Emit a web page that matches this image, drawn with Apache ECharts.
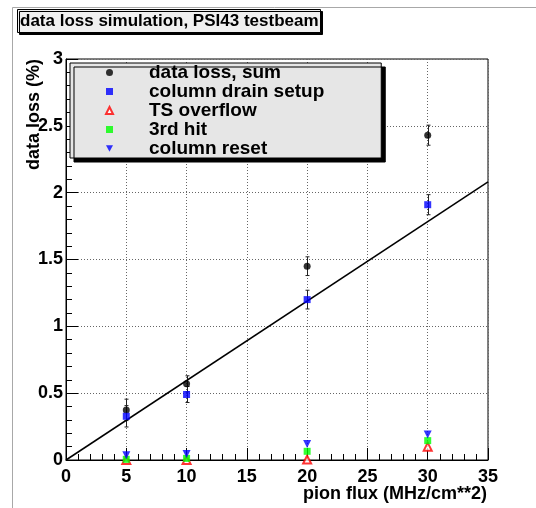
<!DOCTYPE html>
<html><head><meta charset="utf-8">
<script src="https://cdn.jsdelivr.net/npm/echarts@6/dist/echarts.min.js"></script>
<style>html,body{margin:0;padding:0;background:#fff}#c{width:536px;height:508px}</style>
</head><body><div id="c"></div>
<script>
// ---- data ----
const flux = [5, 10, 20, 30];                 // pion flux (MHz/cm**2)
const sumLoss = [0.375, 0.57, 1.45, 2.43];    // data loss, sum
const sumErr = [0.08, 0.06, 0.07, 0.075];
const drainLoss = [0.327, 0.49, 1.2, 1.91];   // column drain setup
const drainErr = [0.08, 0.06, 0.07, 0.075];
const tsOverflow = [0.0, 0.0, 0.003, 0.10];   // TS overflow
const thirdHit = [0.005, 0.012, 0.065, 0.145];// 3rd hit
const colReset = [0.035, 0.045, 0.12, 0.19];  // column reset
const fitX = [0, 35];                         // straight-line fit
const fitY = [0, 2.08];
const seriesNames = ['data loss, sum', 'column drain setup', 'TS overflow', '3rd hit', 'column reset'];
const titleText = 'data loss simulation, PSI43 testbeam';
const xTitle = 'pion flux (MHz/cm**2)';
const yTitle = 'data loss (%)';

const FONT = 'Liberation Sans, Arial, Helvetica, sans-serif';
const pts = (ys) => flux.map((x, i) => [x, ys[i]]);
const errData = (ys, es) => flux.map((x, i) => [x, ys[i] - es[i], ys[i] + es[i]]);

function errRender(params, api) {
  const x = api.value(0);
  const lo = api.coord([x, api.value(1)]);
  const hi = api.coord([x, api.value(2)]);
  const c = 2;
  const px = Math.round(lo[0]) + 0.5;
  return {
    type: 'group',
    children: [
      { type: 'line', shape: { x1: px, y1: lo[1], x2: px, y2: hi[1] }, style: { stroke: '#222', lineWidth: 1 } },
      { type: 'line', shape: { x1: px - c, y1: lo[1], x2: px + c, y2: lo[1] }, style: { stroke: '#222', lineWidth: 1 } },
      { type: 'line', shape: { x1: px - c, y1: hi[1], x2: px + c, y2: hi[1] }, style: { stroke: '#222', lineWidth: 1 } }
    ]
  };
}

const axisFont = { fontFamily: FONT, fontWeight: 'bold', fontSize: 18, color: '#000' };
const chart = echarts.init(document.getElementById('c'), null, { renderer: 'canvas' });
chart.setOption({
  animation: false,
  backgroundColor: '#fff',
  graphic: [{
    type: 'rect', silent: true, z: -10,
    shape: { x: 12.5, y: 7.5, width: 600, height: 600 },
    style: { fill: 'none', stroke: '#a8a8a8', lineWidth: 1 }
  }],
  title: {
    text: titleText, left: 17, top: 9, padding: [3, 2, 2, 3],
    backgroundColor: '#f0f0f0', borderColor: '#000', borderWidth: 1,
    shadowColor: '#000', shadowOffsetX: 2, shadowOffsetY: 2, shadowBlur: 0,
    textStyle: { fontFamily: FONT, fontWeight: 'bold', fontSize: 17, lineHeight: 19, color: '#000' }
  },
  legend: {
    orient: 'vertical', left: 70, top: 63,
    itemWidth: 7, itemHeight: 7, itemGap: 0,
    padding: [0, 57, 0, 35],
    backgroundColor: '#e6e6e6', borderColor: '#000', borderWidth: 1,
    shadowColor: '#000', shadowOffsetX: 4, shadowOffsetY: 4, shadowBlur: 0,
    selectedMode: false,
    textStyle: { fontFamily: FONT, fontWeight: 'bold', fontSize: 19, lineHeight: 19, color: '#000', padding: [0, 0, 0, 31] },
    data: seriesNames
  },
  grid: { left: 66, right: 48, top: 59, bottom: 48, show: true, borderColor: '#000', borderWidth: 1, backgroundColor: 'transparent', outerBoundsMode: 'none' },
  xAxis: {
    type: 'value', min: 0, max: 35, interval: 5,
    name: xTitle, nameLocation: 'end', nameGap: 0, nameMoveOverlap: false,
    nameTextStyle: Object.assign({ align: 'right', verticalAlign: 'top', padding: [25, 1, 0, 0] }, axisFont),
    axisLine: { show: true, onZero: false, lineStyle: { color: '#000', width: 1 } },
    axisTick: { show: true, inside: true, length: 12, lineStyle: { color: '#000' } },
    minorTick: { show: true, splitNumber: 5, length: 6, lineStyle: { color: '#000' } },
    splitLine: { show: true, lineStyle: { color: '#666', type: [1, 2], width: 1 } },
    axisLabel: Object.assign({ margin: 8 }, axisFont)
  },
  yAxis: {
    type: 'value', min: 0, max: 3, interval: 0.5,
    name: yTitle, nameLocation: 'end', nameGap: 0, nameRotate: 90, nameMoveOverlap: false,
    nameTextStyle: Object.assign({ align: 'right', verticalAlign: 'bottom', padding: [0, 0, 23, 0] }, axisFont),
    axisLine: { show: true, onZero: false, lineStyle: { color: '#000', width: 1 } },
    axisTick: { show: true, inside: true, length: 12, lineStyle: { color: '#000' } },
    minorTick: { show: true, splitNumber: 5, length: 6, lineStyle: { color: '#000' } },
    splitLine: { show: true, lineStyle: { color: '#666', type: [1, 2], width: 1 } },
    axisLabel: Object.assign({ margin: 3 }, axisFont)
  },
  series: [
    { type: 'custom', name: 'sumErr', renderItem: errRender, data: errData(sumLoss, sumErr), z: 1, encode: { x: 0, y: [1, 2] } },
    { type: 'custom', name: 'drainErr', renderItem: errRender, data: errData(drainLoss, drainErr), z: 1, encode: { x: 0, y: [1, 2] } },
    { type: 'line', name: 'fit', data: fitX.map((x, i) => [x, fitY[i]]), showSymbol: false, symbol: 'none',
      lineStyle: { color: '#000', width: 1.5 }, z: 3 },
    { type: 'scatter', name: seriesNames[0], data: pts(sumLoss), symbol: 'circle', symbolSize: 7, itemStyle: { color: '#000' }, z: 4 },
    { type: 'scatter', name: seriesNames[1], data: pts(drainLoss), symbol: 'rect', symbolSize: 7, itemStyle: { color: '#0000ff' }, z: 4 },
    { type: 'scatter', name: seriesNames[2], data: pts(tsOverflow), symbol: 'emptyTriangle', symbolSize: 8, itemStyle: { color: '#ff0000', borderWidth: 1 }, z: 4 },
    { type: 'scatter', name: seriesNames[3], data: pts(thirdHit), symbol: 'rect', symbolSize: 7, itemStyle: { color: '#00ff00' }, z: 4 },
    { type: 'scatter', name: seriesNames[4], data: pts(colReset), symbol: 'path://M0,0 L10,0 L5,9 Z', symbolSize: 8, itemStyle: { color: '#0000ff' }, z: 4 }
  ]
});
</script>
</body></html>
